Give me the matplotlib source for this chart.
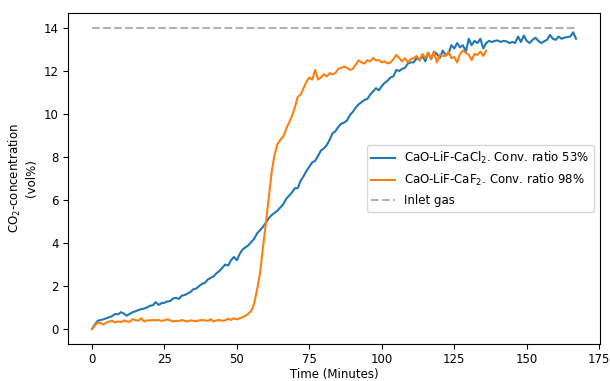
#!/usr/bin/env python3
"""CO2 breakthrough curves for two CaO-LiF sorbents vs. inlet gas."""
import numpy as np
import matplotlib
matplotlib.use("Agg")
import matplotlib.pyplot as plt

# sampled once per minute
cacl2_conc = [
    0.0, 0.2, 0.38, 0.42, 0.45, 0.5, 0.55, 0.6, 0.7, 0.68,
    0.78, 0.72, 0.62, 0.7, 0.78, 0.82, 0.88, 0.92, 0.95, 1.0,
    1.08, 1.1, 1.25, 1.12, 1.2, 1.22, 1.28, 1.3, 1.42, 1.45,
    1.4, 1.55, 1.58, 1.65, 1.72, 1.85, 1.88, 2.0, 2.1, 2.15,
    2.3, 2.38, 2.45, 2.6, 2.7, 2.85, 3.0, 2.95, 3.2, 3.35,
    3.2, 3.5, 3.7, 3.8, 3.9, 4.05, 4.2, 4.45, 4.6, 4.75,
    4.95, 5.15, 5.3, 5.4, 5.5, 5.65, 5.8, 6.05, 6.2, 6.35,
    6.55, 6.55, 6.9, 7.1, 7.35, 7.55, 7.75, 7.82, 8.05, 8.3,
    8.4, 8.55, 8.8, 9.1, 9.2, 9.4, 9.55, 9.6, 9.7, 9.95,
    10.1, 10.3, 10.45, 10.55, 10.65, 10.7, 10.9, 11.05, 11.2, 11.1,
    11.3, 11.45, 11.55, 11.7, 11.75, 12.05, 12.0, 12.1, 12.15, 12.35,
    12.4, 12.4, 12.6, 12.5, 12.7, 12.45, 12.85, 12.55, 12.9, 12.8,
    12.6, 12.95, 12.75, 12.8, 13.2, 13.05, 13.3, 13.1, 13.2, 12.9,
    13.5, 13.2, 13.4, 13.3, 13.5, 13.05, 13.3, 13.4, 13.35, 13.4,
    13.42, 13.35, 13.4, 13.38, 13.3, 13.35, 13.3, 13.6, 13.35, 13.65,
    13.4, 13.3, 13.45, 13.55, 13.4, 13.3, 13.38, 13.45, 13.68, 13.5,
    13.45, 13.6, 13.5, 13.55, 13.58, 13.6, 13.8, 13.5,
]
caf2_conc = [
    0.0, 0.15, 0.3, 0.28, 0.2, 0.3, 0.35, 0.38, 0.3, 0.35,
    0.32, 0.4, 0.35, 0.33, 0.45, 0.42, 0.38, 0.5, 0.35, 0.4,
    0.4, 0.42, 0.4, 0.42, 0.38, 0.4, 0.45, 0.4, 0.35, 0.38,
    0.36, 0.42, 0.38, 0.35, 0.4, 0.38, 0.36, 0.4, 0.42, 0.4,
    0.38, 0.45, 0.35, 0.4, 0.42, 0.38, 0.4, 0.48, 0.42, 0.5,
    0.45, 0.5, 0.55, 0.62, 0.72, 0.85, 1.2, 1.85, 2.6, 3.8,
    4.9, 6.1, 7.3, 8.1, 8.6, 8.8, 8.95, 9.3, 9.6, 9.9,
    10.3, 10.8, 10.9, 11.2, 11.5, 11.7, 11.6, 12.05, 11.6, 11.7,
    11.85, 11.75, 11.9, 11.85, 11.9, 12.1, 12.15, 12.2, 12.15, 12.05,
    12.1, 12.3, 12.5, 12.4, 12.35, 12.5, 12.45, 12.6, 12.5, 12.5,
    12.4, 12.45, 12.35, 12.4, 12.55, 12.75, 12.6, 12.45, 12.6, 12.4,
    12.55, 12.6, 12.7, 12.5, 12.8, 12.6, 12.85, 12.55, 12.9, 12.4,
    12.75, 12.7, 12.7, 12.9, 12.6, 12.65, 12.4, 12.8, 12.95, 12.85,
    12.75, 12.5, 12.8, 12.75, 12.9, 12.7, 12.95,
]
cacl2_time = np.arange(len(cacl2_conc))
caf2_time = np.arange(len(caf2_conc))
inlet_time = [0, 167]
inlet_conc = [14.0, 14.0]

plt.rcParams["font.size"] = 8.5

fig = plt.figure(figsize=(6.1, 3.81), dpi=100)
ax = fig.add_axes([0.111, 0.097, 0.873, 0.869])
ax.plot(cacl2_time, cacl2_conc, color="#1f77b4", lw=1.5,
        label="CaO-LiF-CaCl$_2$. Conv. ratio 53%")
ax.plot(caf2_time, caf2_conc, color="#ff7f0e", lw=1.5,
        label="CaO-LiF-CaF$_2$. Conv. ratio 98%")
ax.plot(inlet_time, inlet_conc, "--", color="gray", alpha=0.6, lw=1.5,
        label="Inlet gas")
ax.tick_params(pad=3)
ax.set_xlabel("Time (Minutes)", labelpad=1.5)
ax.set_ylabel("CO$_2$-concentration\n(vol%)")
ax.legend(loc="center right")
fig.savefig("out.png")
